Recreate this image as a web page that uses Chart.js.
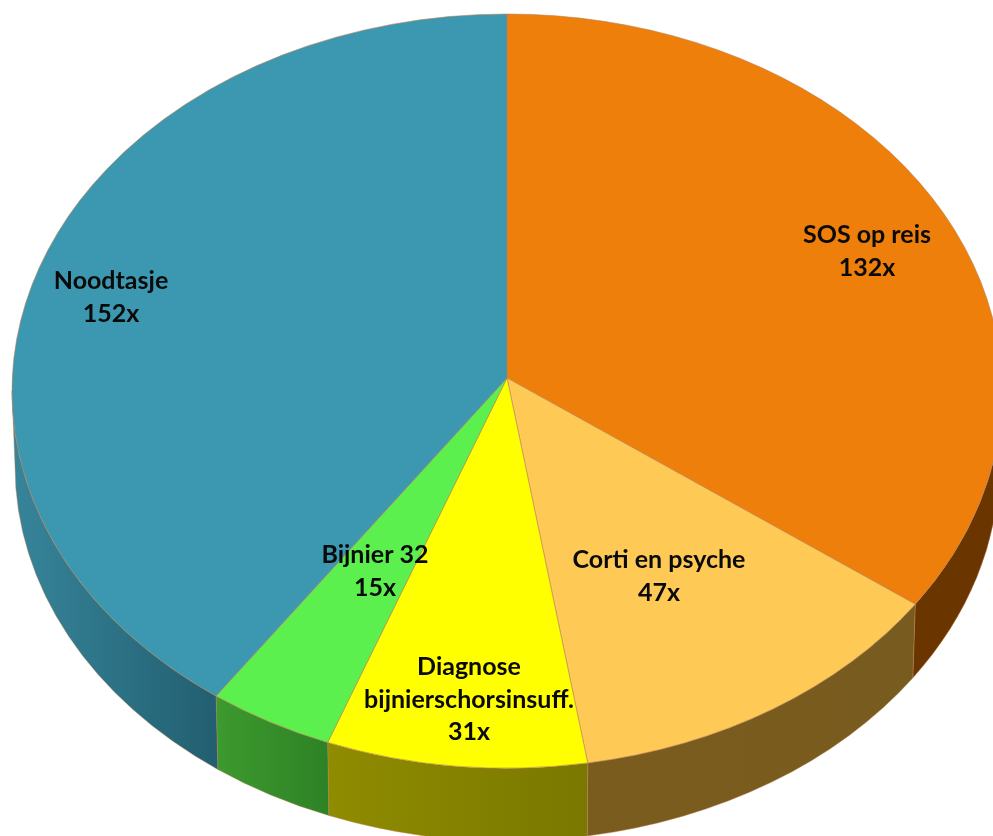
<!DOCTYPE html>
<html>
<head>
<meta charset="utf-8">
<style>
  html, body { margin: 0; padding: 0; background: #fff; overflow: hidden; }
  canvas { display: block; }
</style>
<script src="https://cdn.jsdelivr.net/npm/chart.js@4"></script>
</head>
<body>
<canvas id="pieChart" width="993" height="836"></canvas>
<script>
// data, clockwise from the top
const categories = ['SOS op reis', 'Corti en psyche', 'Diagnose bijnierschorsinsuff.', 'Bijnier 32', 'Noodtasje'];
const counts = [132, 47, 31, 15, 152];

const topColors = ['#EE7F0B', '#FFC955', '#FFFF00', '#5CF04F', '#3C98B0'];
const wallColorsLeft = ['#6B3500', '#7A5C1E', '#8F8C00', '#3D9A2E', '#37859B'];
const wallColorsRight = ['#6B3500', '#785B1E', '#7A7800', '#2E8226', '#225F70'];

const labelLines = [
    ['SOS op reis', '132x'],
    ['Corti en psyche', '47x'],
    ['Diagnose', 'bijnierschorsinsuff.', '31x'],
    ['Bijnier 32', '15x'],
    ['Noodtasje', '152x']
];
const labelAnchors = [[867, 235], [659, 560], [469, 667], [375, 555], [111, 281]];
const lineHeight = 32.5;

// the tilted disc: top ellipse, bottom ellipse, and the apex pulled up by perspective
const disc = { cx: 507, cy: 391, rx: 495, ry: 377, apexY: 378 };
const base = { cx: 507, cy: 466, rx: 492, ry: 375 };

// perspective: moves a circle angle to the ellipse angle so the centre lands on the apex
function warp(a) {
    const e = (disc.cy - disc.apexY) / disc.ry;
    const x = Math.cos(a), y = Math.sin(a);
    const d = 1 - e * y;
    return Math.atan2((y - e) / d, x * Math.sqrt(1 - e * e) / d);
}

function sliceAngles(arc) {
    let a1 = warp(arc.startAngle);
    let a2 = warp(arc.endAngle);
    while (a1 < -Math.PI / 2 - 1e-6) a1 += Math.PI * 2;
    while (a2 <= a1 + 1e-6) a2 += Math.PI * 2;
    return [a1, a2];
}

const tiltedPie = {
    id: 'tiltedPie',
    beforeDatasetsDraw(chart) {
        const ctx = chart.ctx;
        const arcs = chart.getDatasetMeta(0).data;

        // side walls, front half only
        arcs.forEach((arc, i) => {
            const [s, e] = sliceAngles(arc);
            const a1 = Math.max(s, 0), a2 = Math.min(e, Math.PI);
            if (a2 <= a1) return;
            const x1 = disc.cx + disc.rx * Math.cos(a2);
            const x2 = disc.cx + disc.rx * Math.cos(a1);
            const grad = ctx.createLinearGradient(x1, 0, x2, 0);
            grad.addColorStop(0, wallColorsLeft[i]);
            grad.addColorStop(1, wallColorsRight[i]);
            ctx.beginPath();
            ctx.ellipse(disc.cx, disc.cy, disc.rx, disc.ry, 0, a1, a2);
            ctx.ellipse(base.cx, base.cy, base.rx, base.ry, 0, a2, a1, true);
            ctx.closePath();
            ctx.fillStyle = grad;
            ctx.fill();
            ctx.strokeStyle = 'rgba(185,130,85,0.55)';
            ctx.lineWidth = 0.8;
            ctx.stroke();
        });

        // top faces
        arcs.forEach((arc, i) => {
            const [s, e] = sliceAngles(arc);
            ctx.beginPath();
            ctx.moveTo(disc.cx, disc.apexY);
            ctx.ellipse(disc.cx, disc.cy, disc.rx, disc.ry, 0, s, e);
            ctx.closePath();
            ctx.fillStyle = topColors[i];
            ctx.fill();
            ctx.strokeStyle = 'rgba(185,130,85,0.75)';
            ctx.lineWidth = 0.8;
            ctx.stroke();
        });
        return false;
    },
    afterDraw(chart) {
        const ctx = chart.ctx;
        ctx.save();
        ctx.font = '700 25px Lato, sans-serif';
        ctx.fillStyle = '#0A0A0A';
        ctx.textAlign = 'center';
        ctx.textBaseline = 'middle';
        labelLines.forEach((lines, i) => {
            lines.forEach((line, j) => {
                ctx.fillText(line, labelAnchors[i][0], labelAnchors[i][1] + j * lineHeight);
            });
        });
        ctx.restore();
    }
};

new Chart(document.getElementById('pieChart').getContext('2d'), {
    type: 'pie',
    data: {
        labels: categories,
        datasets: [{ data: counts, backgroundColor: topColors, borderWidth: 0 }]
    },
    options: {
        responsive: false,
        animation: false,
        layout: { padding: 0 },
        plugins: {
            legend: { display: false },
            tooltip: { enabled: false }
        }
    },
    plugins: [tiltedPie]
});
</script>
</body>
</html>
